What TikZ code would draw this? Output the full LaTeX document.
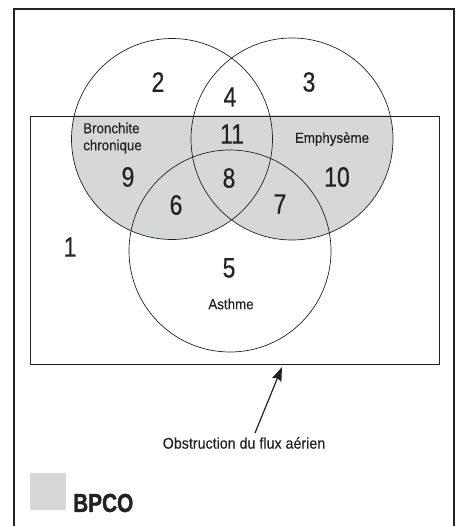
\documentclass[tikz,border=0pt]{standalone}
\usepackage{fontspec}
\setmainfont{Liberation Sans}[FakeStretch=0.82,FakeBold=0.4]
\newfontfamily\lblfont{Liberation Sans}[FakeStretch=0.92,FakeBold=0.3]
\newfontfamily\legfont{Liberation Sans}[FakeStretch=0.8,UprightFont=*-Bold,FakeBold=1.2]
\usepackage{tikz}
\usetikzlibrary{arrows.meta}
\pgfdeclarelayer{bg}
\pgfdeclarelayer{fg}
\pgfsetlayers{bg,main,fg}
\definecolor{ink}{HTML}{222222}
\definecolor{bpcogrey}{HTML}{D6D8D5}

\begin{document}
\begin{tikzpicture}[x=1pt,y=-1pt,
    frame/.style={draw=ink, line width=1.1pt},
    zone/.style={draw=ink, line width=0.7pt},
    num/.style={text=ink, font=\fontsize{28}{28}\selectfont, inner sep=0pt},
    lbl/.style={text=ink, font=\lblfont\fontsize{14.5}{17}\selectfont, inner sep=0pt},
    pointer/.style={draw=ink, line width=1.2pt, -{Stealth[length=14pt,width=10pt,inset=2pt,fill=ink]}}]
                        \useasboundingbox (0,0) rectangle (460,526);

                        \coordinate (L) at (172,139);
                        \coordinate (R) at (292,139);
                        \coordinate (A) at (230,251);

                        \begin{pgfonlayer}{bg}
                            \begin{scope}
                                \clip (30,116) rectangle (439,364);
                                \fill[bpcogrey] (L) circle[radius=100.5pt] (R) circle[radius=101pt];
                            \end{scope}
                        \end{pgfonlayer}

                        \draw[frame] (14,527) -- (14,9) -- (454,9) -- (454,527);
                        \draw[zone] (30,116) rectangle (439,364);

                        \draw[zone] (L) circle[radius=100.5pt];
                        \draw[zone] (R) circle[radius=101pt];
                        \draw[zone] (A) circle[radius=101pt];

                        \foreach \n/\x/\y in {1/70/247, 2/158/82, 3/309/82, 4/230/97, 5/229/268,
                                              6/176/205, 7/280/204, 8/229/178, 9/128/177,
                                              10/337/177, 11/232/134} {
                            \node[num] (n\n) at (\x,\y) {\n};
                        }

                        \node[lbl, align=left, anchor=west] (bronch) at (83,138) {Bronchite\\chronique};
                        \node[lbl] (emph) at (332,139) {Emphysème};
                        \node[lbl] (asth) at (231,304) {Asthme};

                        \node[lbl, font=\lblfont\fontsize{15.5}{18}\selectfont] (obs) at (244,443) {Obstruction du flux aérien};
                        \coordinate (tail) at (255,433);
                        \coordinate (tip) at (282,367);
                        \draw[pointer] (tail) -- (tip);

                        \fill[bpcogrey] (30,473) rectangle (66,510);
                        \node[text=ink, font=\legfont\fontsize{26}{26}\selectfont, anchor=west, inner sep=0pt] (bpco) at (73,503) {BPCO};
                    \end{tikzpicture}
\end{document}
